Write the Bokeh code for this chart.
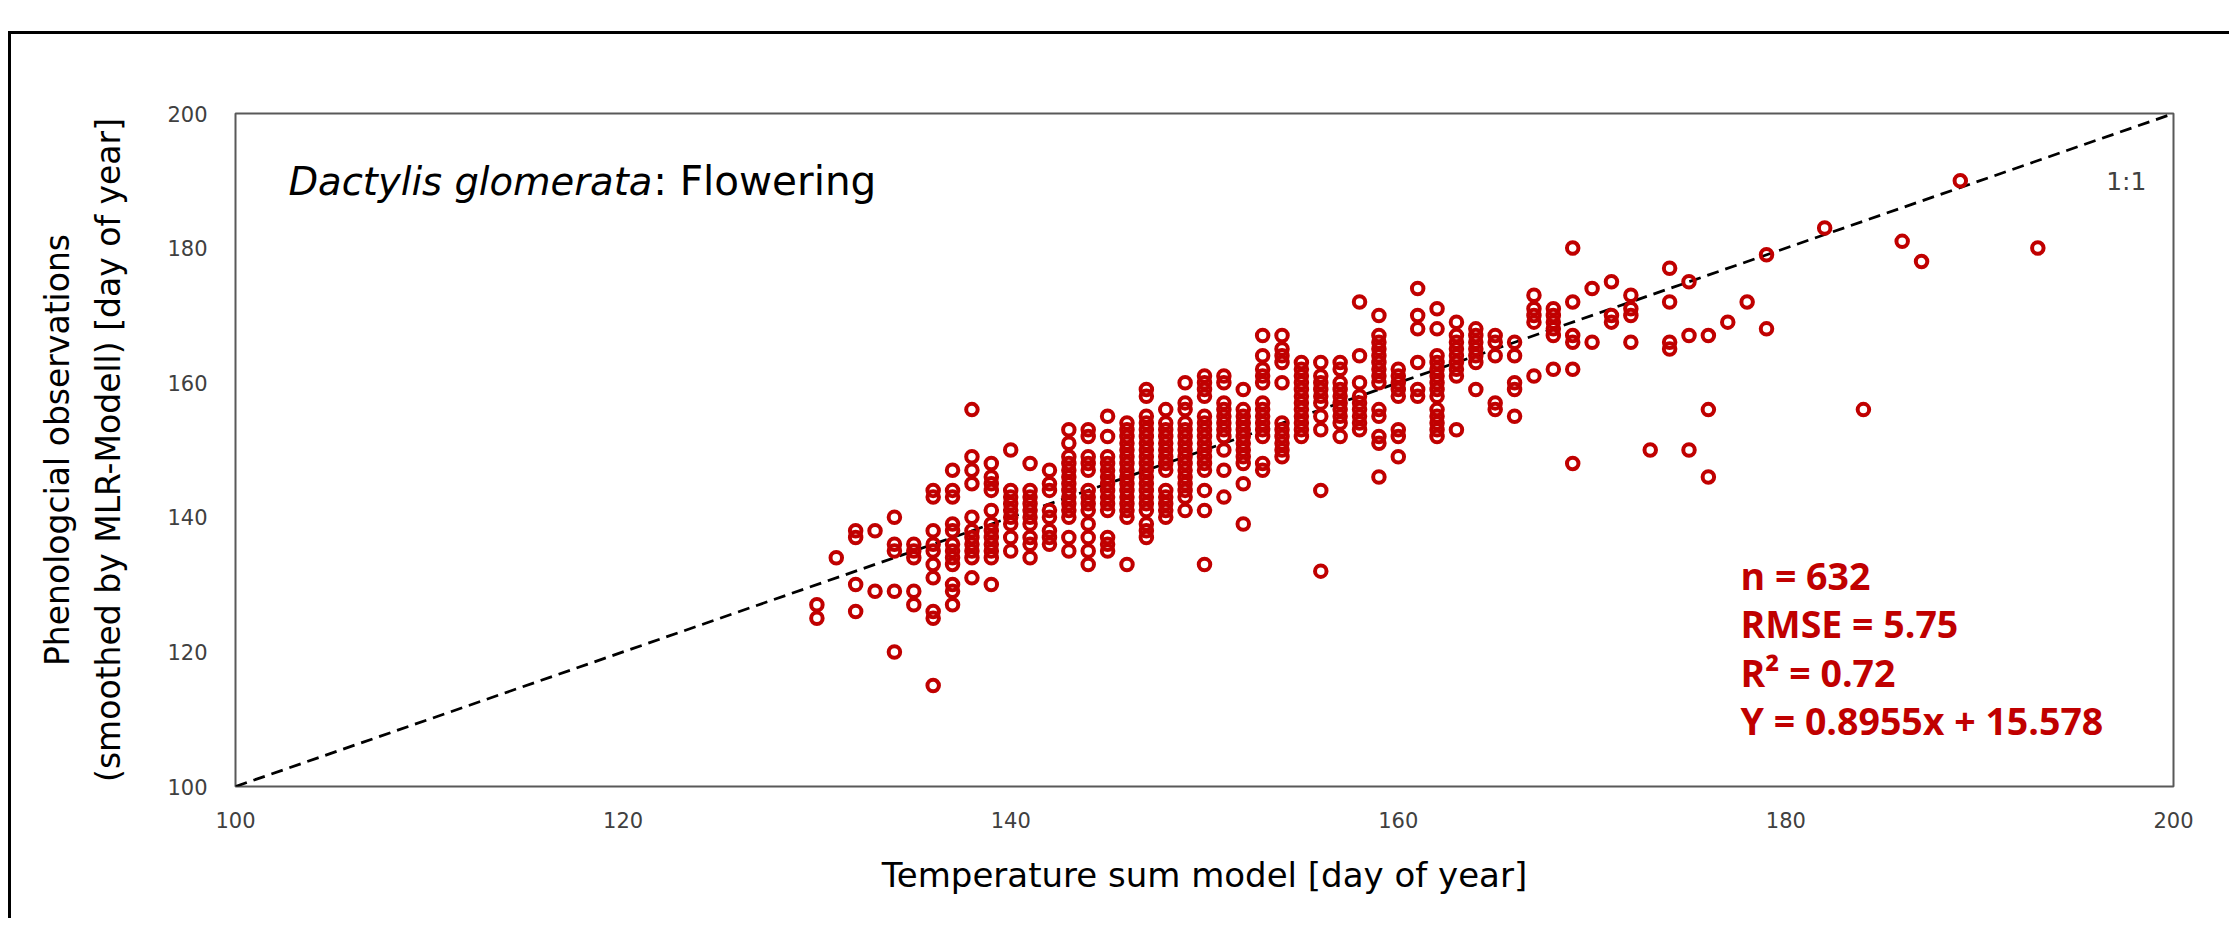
from bokeh.plotting import figure
from bokeh.models import Label, Range1d, FixedTicker
from bokeh.embed import file_html
from bokeh.resources import INLINE

# ---- data (integer day-of-year grid) ----
model_day = [130, 131, 132, 133, 134, 135, 136, 137, 138, 139, 140, 141, 142, 143,
             144, 145, 146, 147, 148, 149, 150, 151, 152, 153, 154, 155, 156, 157,
             158, 159, 160, 161, 162, 163, 164, 165, 166, 167, 168, 169, 170, 171,
             172, 173, 174, 175, 176, 177, 178, 179, 182, 184, 186, 187, 189, 193]
observed_days = [
    [127, 125],
    [134],
    [138, 137, 130, 126],
    [138, 129],
    [140, 136, 135, 129, 120],
    [136, 135, 134, 129, 127],
    [144, 143, 138, 136, 135, 133, 131, 126, 125, 115],
    [147, 144, 143, 139, 138, 136, 135, 134, 133, 130, 129, 127],
    [156, 149, 147, 145, 140, 138, 137, 136, 135, 134, 131],
    [148, 146, 145, 144, 141, 139, 138, 137, 136, 135, 134, 130],
    [150, 144, 143, 142, 141, 140, 139, 137, 135],
    [148, 144, 143, 142, 141, 140, 139, 137, 136, 134],
    [147, 145, 144, 141, 140, 138, 137, 136],
    [153, 151, 149, 148, 147, 146, 145, 144, 143, 142, 141, 140, 137, 135],
    [153, 152, 149, 148, 147, 144, 143, 142, 141, 139, 137, 135, 133],
    [155, 152, 149, 148, 147, 146, 145, 144, 143, 142, 141, 137, 136, 135],
    [154, 153, 152, 151, 150, 149, 148, 147, 146, 145, 144, 143, 142, 141, 140, 133],
    [159, 158, 155, 154, 153, 152, 151, 150, 149, 148, 147, 146, 145, 144, 143, 142, 141, 139, 138, 137],
    [156, 154, 153, 152, 151, 150, 149, 148, 147, 144, 143, 142, 141, 140],
    [160, 157, 156, 154, 153, 152, 151, 150, 149, 148, 147, 146, 145, 144, 143, 141],
    [161, 160, 159, 158, 155, 154, 153, 152, 151, 150, 149, 148, 147, 144, 141, 133],
    [161, 160, 157, 156, 155, 154, 153, 152, 150, 147, 143],
    [159, 156, 155, 154, 153, 152, 151, 150, 149, 148, 145, 139],
    [167, 164, 162, 161, 160, 157, 156, 155, 154, 153, 152, 148, 147],
    [167, 165, 164, 163, 160, 154, 153, 152, 151, 150, 149],
    [163, 162, 161, 160, 159, 158, 157, 156, 155, 154, 153, 152],
    [163, 161, 160, 159, 158, 157, 155, 153, 144, 132],
    [163, 162, 160, 159, 158, 157, 156, 155, 154, 152],
    [172, 164, 160, 158, 157, 156, 155, 154, 153],
    [170, 167, 166, 165, 164, 163, 162, 161, 160, 156, 155, 152, 151, 146],
    [162, 161, 160, 159, 158, 153, 152, 149],
    [174, 170, 168, 163, 159, 158],
    [171, 168, 164, 163, 162, 161, 160, 159, 158, 156, 155, 154, 153, 152],
    [169, 167, 166, 165, 164, 163, 162, 161, 153],
    [168, 167, 166, 165, 164, 163, 159],
    [167, 166, 164, 157, 156],
    [166, 164, 160, 159, 155],
    [173, 171, 170, 169, 161],
    [171, 170, 169, 168, 167, 162],
    [180, 172, 167, 166, 162, 148],
    [174, 166],
    [175, 170, 169],
    [173, 171, 170, 166],
    [150],
    [177, 172, 166, 165],
    [175, 167, 150],
    [167, 156, 146],
    [169],
    [172],
    [179, 168],
    [183],
    [156],
    [181],
    [178],
    [190],
    [180],
]
x_ticks = [100, 120, 140, 160, 180, 200]
y_ticks = [100, 120, 140, 160, 180, 200]
one_to_one = [100, 200]
title_species = "Dactylis glomerata"
title_phase = ": Flowering"
ratio_label = "1:1"
stats_lines = ["n = 632", "RMSE = 5.75", "R\u00b2 = 0.72", "Y = 0.8955x + 15.578"]
x_title = "Temperature sum model [day of year]"
y_title = "Phenologcial observations\n(smoothed by MLR-Modell) [day of year]"

xs, ys = [], []
for d, obs in zip(model_day, observed_days):
    for o in obs:
        xs.append(d)
        ys.append(o)

RED = "#C00000"
FONT = "DejaVu Sans"

p = figure(frame_width=1938, frame_height=673,
           x_range=Range1d(100, 200), y_range=Range1d(100, 200),
           output_backend="svg", toolbar_location=None,
           min_border_left=224, min_border_right=56,
           min_border_top=79, min_border_bottom=132)
p.styles = {"border-top": "3px solid black", "border-left": "3px solid black",
            "margin-top": "31px", "margin-left": "8px"}
p.background_fill_color = "white"
p.border_fill_color = "white"
p.outline_line_color = "#595959"
p.outline_line_width = 2
p.xgrid.visible = False
p.ygrid.visible = False

for ax in (p.xaxis[0], p.yaxis[0]):
    ax.axis_line_color = None
    ax.major_tick_line_color = None
    ax.minor_tick_line_color = None
    ax.major_tick_out = 0
    ax.major_tick_in = 0
    ax.minor_tick_out = 0
    ax.major_label_text_font = FONT
    ax.major_label_text_font_size = "21px"
    ax.major_label_text_color = "#404040"
    ax.axis_label_text_font = FONT
    ax.axis_label_text_font_style = "normal"
    ax.axis_label_text_color = "black"
p.xaxis.ticker = FixedTicker(ticks=x_ticks)
p.yaxis.ticker = FixedTicker(ticks=y_ticks)
p.yaxis.major_label_standoff = 28
p.xaxis.major_label_standoff = 25

p.xaxis.axis_label = x_title
p.xaxis.axis_label_text_font_size = "34px"
p.xaxis.axis_label_standoff = 24
p.yaxis.axis_label = y_title
p.yaxis.axis_label_text_font_size = "33px"
p.yaxis.axis_label_text_line_height = 1.32
p.yaxis.axis_label_standoff = 36

# 1:1 line
p.line(one_to_one, one_to_one, line_color="black", line_width=2.75, line_dash="12 7")

# observations
p.scatter(xs, ys, marker="circle", size=11.5, fill_color=None,
          line_color=RED, line_width=4)

# title inside plot
p.add_layout(Label(x=102.73, y=189.9, text=title_species, text_font=FONT,
                   text_font_style="italic", text_font_size="38.5px",
                   text_baseline="middle", text_align="left", text_color="black"))
p.add_layout(Label(x=121.55, y=189.9, text=title_phase, text_font=FONT,
                   text_font_size="40.5px", text_baseline="middle",
                   text_align="left", text_color="black"))
p.add_layout(Label(x=198.6, y=189.9, text=ratio_label, text_font=FONT,
                   text_font_size="25px", text_baseline="middle",
                   text_align="right", text_color="#404040"))

stat_y = [131.3, 124.2, 116.94, 109.75]
for s, yy in zip(stats_lines, stat_y):
    p.add_layout(Label(x=177.66, y=yy, text=s, text_font="Open Sans",
                       text_font_style="bold", text_font_size="37.5px",
                       text_baseline="middle", text_align="left", text_color=RED))

open("out.html", "w").write(file_html(p, INLINE))
